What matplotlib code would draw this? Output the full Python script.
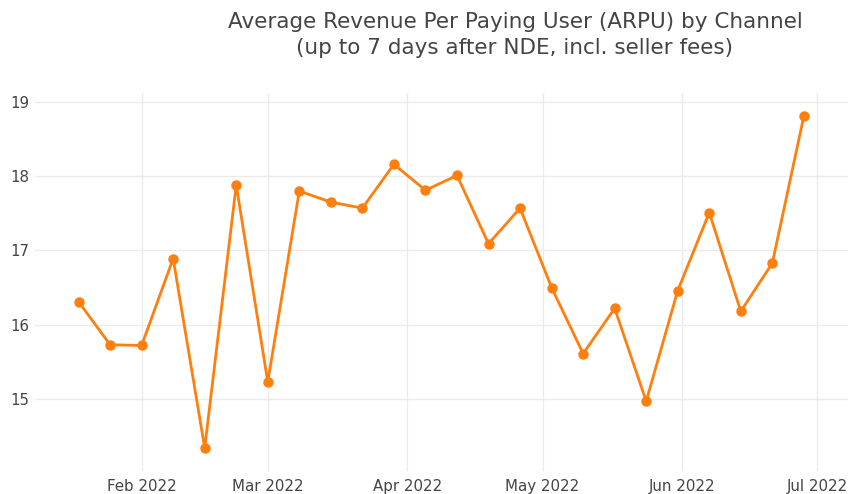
import matplotlib
matplotlib.use("Agg")
import matplotlib.pyplot as plt
import pandas as pd

dates = ["2022-01-18", "2022-01-25", "2022-02-01", "2022-02-08", "2022-02-15",
         "2022-02-22", "2022-03-01", "2022-03-08", "2022-03-15", "2022-03-22",
         "2022-03-29", "2022-04-05", "2022-04-12", "2022-04-19", "2022-04-26",
         "2022-05-03", "2022-05-10", "2022-05-17", "2022-05-24", "2022-05-31",
         "2022-06-07", "2022-06-14", "2022-06-21", "2022-06-28"]
arpu = [16.31, 15.73, 15.72, 16.89, 14.34, 17.88, 15.23, 17.80, 17.65, 17.57,
        18.16, 17.81, 18.01, 17.09, 17.57, 16.50, 15.61, 16.22, 14.97, 16.46,
        17.51, 16.18, 16.83, 18.81]
y_ticks = [15, 16, 17, 18, 19]
x_ticks = ["2022-02-01", "2022-03-01", "2022-04-01", "2022-05-01", "2022-06-01", "2022-07-01"]
x_labels = ["Feb 2022", "Mar 2022", "Apr 2022", "May 2022", "Jun 2022", "Jul 2022"]
title = "Average Revenue Per Paying User (ARPU) by Channel\n(up to 7 days after NDE, incl. seller fees)"

x = pd.to_datetime(dates)

fig = plt.figure(figsize=(8.5, 4.94), dpi=100)
ax = fig.add_axes([35/850, 1-471/494, 813/850, (471-93)/494])

ax.plot(x, arpu, color="#ff7f0e", lw=2, marker="o", ms=6.5, zorder=3, clip_on=False)

ax.set_ylim(14.03, 19.12)
ax.set_xlim(pd.Timestamp("2022-01-08 08:00"), pd.Timestamp("2022-07-07 19:00"))
ax.set_yticks(y_ticks)
ax.set_yticklabels([str(v) for v in y_ticks])
ax.set_xticks(pd.to_datetime(x_ticks))
ax.set_xticklabels(x_labels)

for s in ax.spines.values():
    s.set_visible(False)
ax.grid(True, color="#ebebeb", lw=1)
ax.set_axisbelow(True)
ax.tick_params(length=0, labelsize=10.8, colors="#444444", pad=4)
ax.tick_params(axis="x", pad=6)

fig.text(515/850, 1-35/494, title, ha="center", va="center", fontsize=15.5,
         color="#444444", linespacing=1.35)

fig.savefig("out.png", dpi=100)
